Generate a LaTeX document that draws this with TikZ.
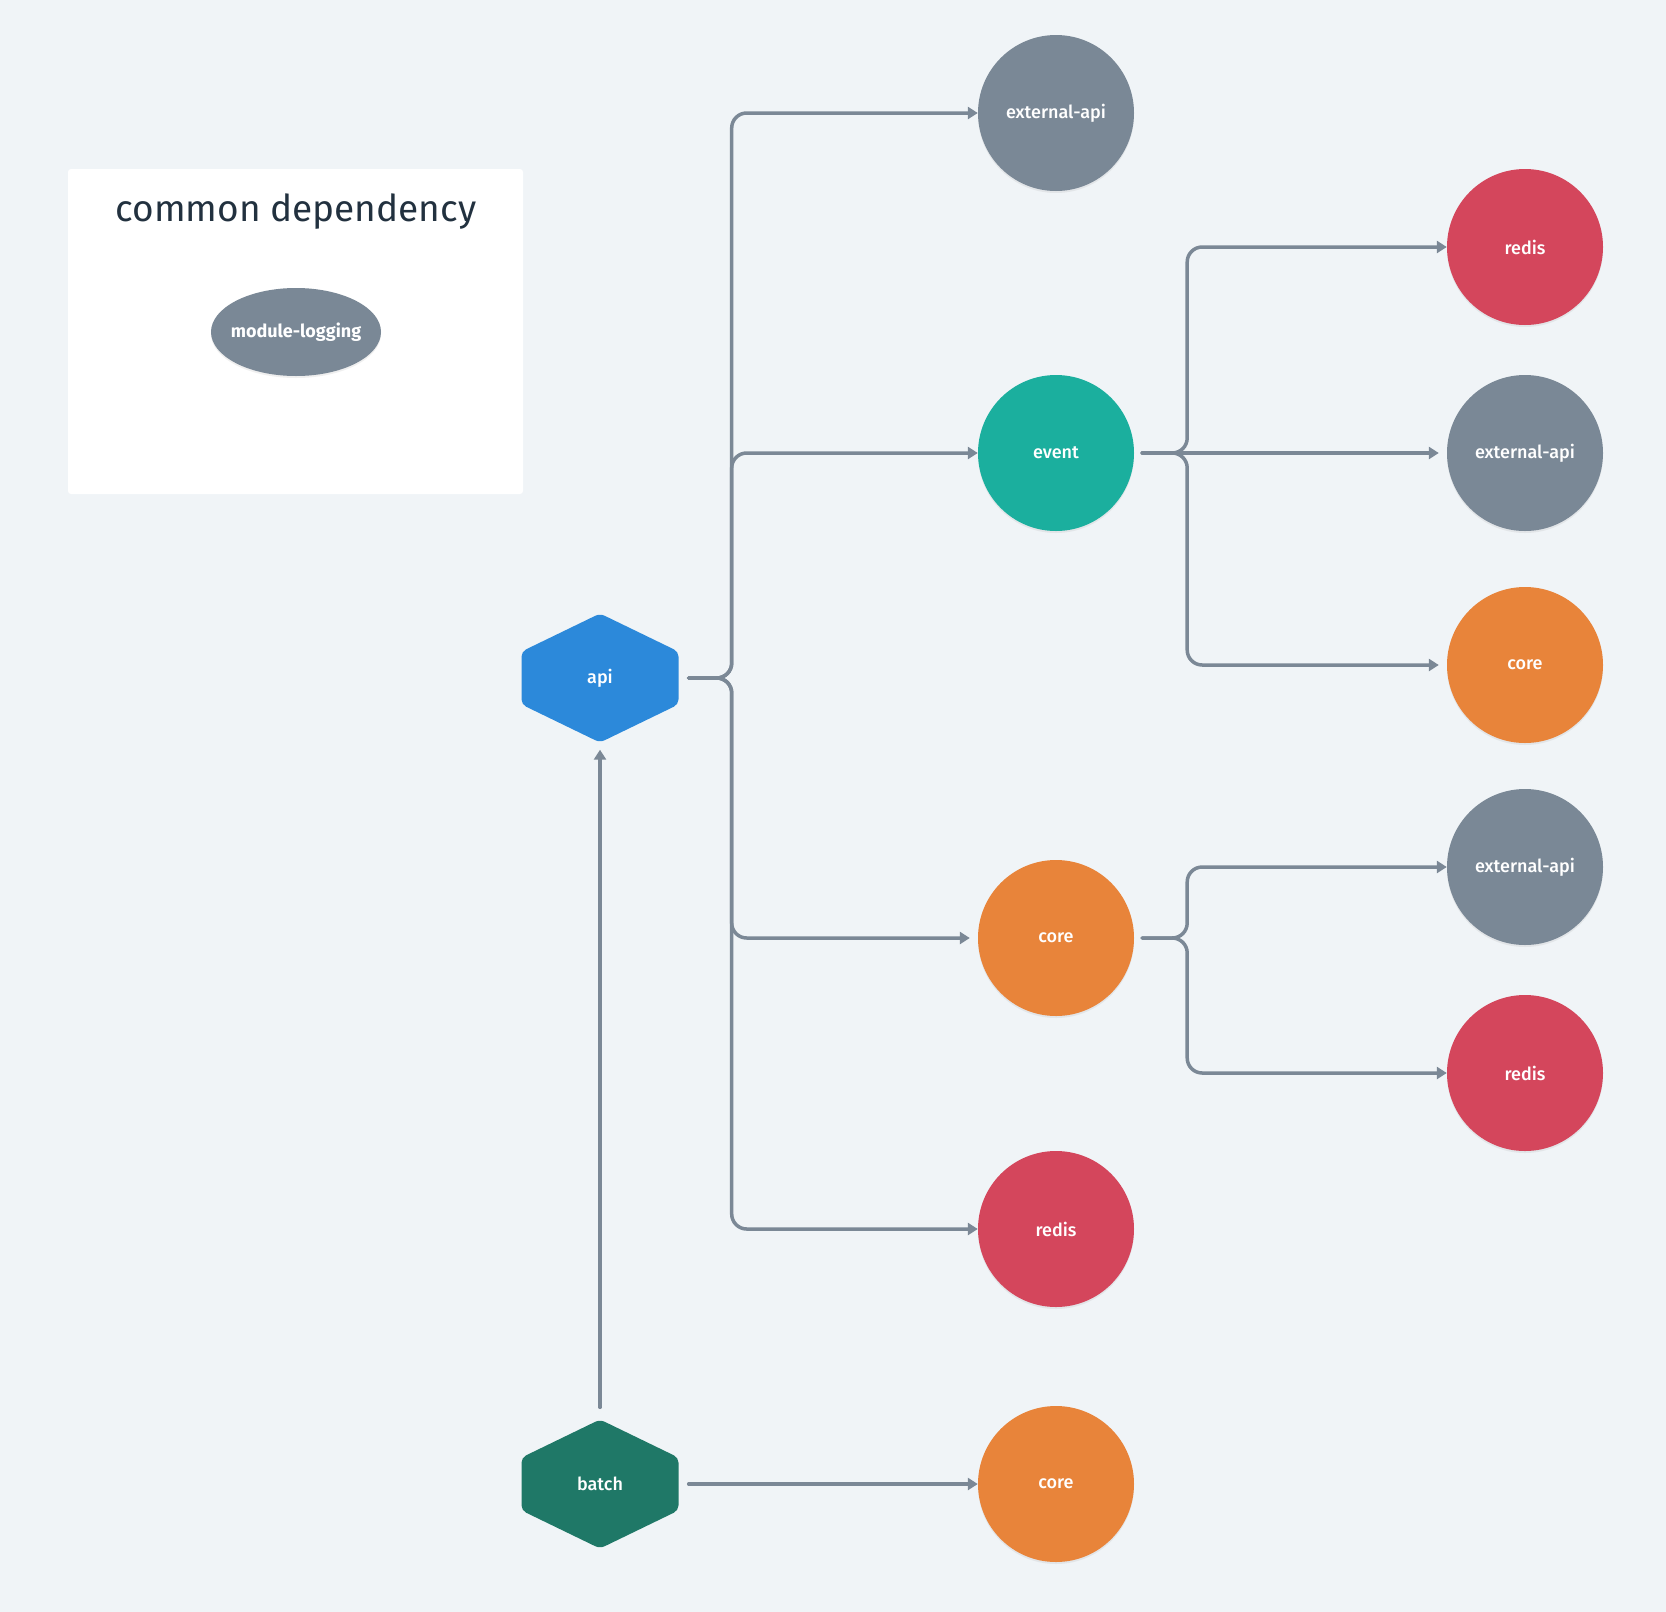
\documentclass[tikz,border=0pt]{standalone}
\usepackage{fontspec}
\setmainfont{Fira Sans}
\newfontfamily\medfont{Fira Sans Medium}
\usetikzlibrary{arrows.meta,calc,shapes.geometric,shadows}
\definecolor{bgc}{HTML}{F0F4F7}
\definecolor{grayc}{HTML}{7A8896}
\definecolor{redc}{HTML}{D4465C}
\definecolor{tealc}{HTML}{1BAF9E}
\definecolor{orangec}{HTML}{E8843A}
\definecolor{bluec}{HTML}{2C89DA}
\definecolor{greenc}{HTML}{1F7867}
\definecolor{linec}{HTML}{7B8896}
\definecolor{titlec}{HTML}{22313F}
\begin{document}
\begin{tikzpicture}[x=1pt,y=-1pt,
  dep/.style={circle, minimum size=156pt, inner sep=0pt, fill=#1, text=white,
    font=\medfont\fontsize{18}{22}\selectfont,
    drop shadow={shadow xshift=0pt, shadow yshift=-2pt, opacity=0.12}},
  hexnode/.style={rectangle, minimum width=157pt, minimum height=129pt, inner sep=0pt,
    fill=bgc, text=white, font=\medfont\fontsize{18}{22}\selectfont,
    path picture={
      \fill[#1, rounded corners=5pt] (path picture bounding box.north)
      -- ($(path picture bounding box.north east)!0.295!(path picture bounding box.south east)$)
      -- ($(path picture bounding box.north east)!0.705!(path picture bounding box.south east)$)
      -- (path picture bounding box.south)
      -- ($(path picture bounding box.north west)!0.705!(path picture bounding box.south west)$)
      -- ($(path picture bounding box.north west)!0.295!(path picture bounding box.south west)$)
      -- cycle;}},
  conn/.style={draw=linec, line width=3.5pt, line cap=round, rounded corners=15pt,
    -{Triangle[length=10pt,width=12pt]}},
]
\fill[bgc] (0,0) rectangle (1666,1612);
\useasboundingbox (0,0) rectangle (1666,1612);

% legend
\fill[white, rounded corners=3pt] (68,169) rectangle (523,494);
\node[text=titlec, font=\fontsize{37}{42}\selectfont] (title) at (296,212) {common dependency};
\node[ellipse, minimum width=170pt, minimum height=88pt, inner xsep=-12pt, inner ysep=0pt,
  fill=grayc, text=white, font=\fontsize{18}{22}\selectfont\bfseries,
  drop shadow={shadow xshift=0pt, shadow yshift=-2pt, opacity=0.12}] (logging) at (296,332) {module-logging};

% hexagons
\node[hexnode=bluec] (api) at (600,678) {api};
\node[hexnode=greenc] (batch) at (600,1484) {batch};

% middle column
\node[dep=grayc] (ext1) at (1056,113) {external-api};
\node[dep=tealc] (event) at (1056,453) {event};
\node[dep=orangec] (core1) at (1056,938) {core};
\node[dep=redc] (redis1) at (1056,1229) {redis};
\node[dep=orangec] (core2) at (1056,1484) {core};

% right column
\node[dep=redc] (redisA) at (1525,247) {redis};
\node[dep=grayc] (extA) at (1525,453) {external-api};
\node[dep=orangec] (coreA) at (1525,665) {core};
\node[dep=grayc] (extB) at (1525,867) {external-api};
\node[dep=redc] (redisB) at (1525,1073) {redis};

% api connectors
\draw[conn] ([xshift=10pt]api.east) -- ++(43,0) |- (ext1.west);
\draw[conn] ([xshift=10pt]api.east) -- ++(43,0) |- (event.west);
\draw[conn, shorten >=8pt] ([xshift=10pt]api.east) -- ++(43,0) |- (core1.west);
\draw[conn] ([xshift=10pt]api.east) -- ++(43,0) |- (redis1.west);

% event connectors
\draw[conn] ([xshift=8pt]event.east) -- ++(45,0) |- (redisA.west);
\draw[conn, shorten >=8pt] ([xshift=8pt]event.east) -- (extA.west);
\draw[conn, shorten >=8pt] ([xshift=8pt]event.east) -- ++(45,0) |- (coreA.west);

% core connectors
\draw[conn] ([xshift=8pt]core1.east) -- ++(45,0) |- (extB.west);
\draw[conn] ([xshift=8pt]core1.east) -- ++(45,0) |- (redisB.west);

% batch connectors
\draw[conn, shorten >=7pt] ([yshift=12pt]batch.north) -- (api.south);
\draw[conn] ([xshift=10pt]batch.east) -- (core2.west);
\end{tikzpicture}
\end{document}
